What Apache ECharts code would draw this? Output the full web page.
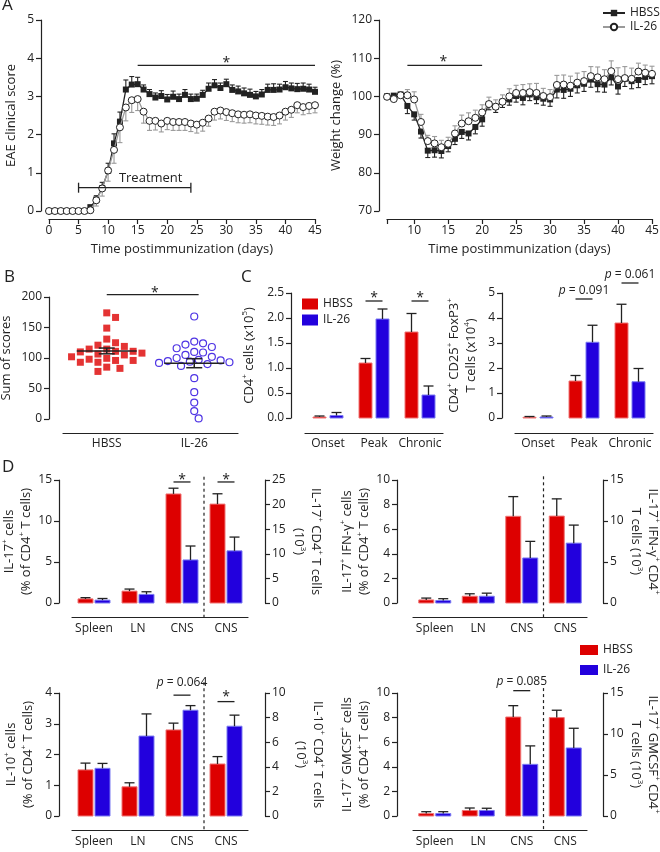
<!DOCTYPE html>
<html><head><meta charset="utf-8">
<script src="https://cdn.jsdelivr.net/npm/echarts@6/dist/echarts.min.js"></script>
<style>html,body{margin:0;padding:0;background:#fff}#c{width:660px;height:852px}</style>
</head><body><div id="c"></div>
<script>
// ---------------- DATA ----------------
// Panel A (left): EAE clinical score
const scoreDays = [0,1,2,3,4,5,6,7,8,9,10,11,12,13,14,15,16,17,18,19,20,21,22,23,24,25,26,27,28,29,30,31,32,33,34,35,36,37,38,39,40,41,42,43,44,45];
const scoreHBSS = [0,0,0,0,0,0,0,0.1,0.3,0.6,1.05,1.77,2.34,3.18,3.31,3.32,3.18,3.06,2.97,3.01,2.92,2.99,2.93,3.04,2.93,2.94,3.04,3.2,3.29,3.22,3.32,3.17,3.13,3.08,3.04,3.0,3.05,3.17,3.17,3.18,3.24,3.21,3.19,3.2,3.18,3.12];
const scoreHBSSErr = [0,0,0,0,0,0,0,0.05,0.1,0.15,0.2,0.25,0.25,0.25,0.21,0.18,0.12,0.12,0.12,0.14,0.13,0.15,0.13,0.14,0.13,0.12,0.12,0.15,0.15,0.13,0.13,0.13,0.14,0.14,0.15,0.13,0.13,0.15,0.16,0.14,0.15,0.14,0.15,0.15,0.14,0.12];
const scoreIL26 = [0,0,0,0,0,0,0,0.02,0.28,0.59,1.06,1.6,2.19,2.71,2.9,2.93,2.6,2.36,2.36,2.29,2.36,2.33,2.33,2.33,2.29,2.26,2.31,2.42,2.6,2.63,2.59,2.56,2.53,2.52,2.53,2.5,2.49,2.47,2.46,2.5,2.6,2.65,2.77,2.72,2.75,2.77];
const scoreIL26Err = [0,0,0,0,0,0,0,0.05,0.15,0.2,0.28,0.35,0.4,0.35,0.32,0.3,0.3,0.25,0.24,0.22,0.23,0.22,0.22,0.22,0.21,0.22,0.22,0.2,0.22,0.22,0.22,0.22,0.22,0.22,0.22,0.22,0.22,0.22,0.22,0.22,0.22,0.2,0.2,0.2,0.2,0.2];
const scoreSig = [15, 45, 3.81, 30, 3.95];          // x1, x2, y, star x, star y
const treatment = [5, 24, 0.61, 17.2, 0.85];         // start, end, y, label x, label y

// Panel A (right): weight change
const weightDays = [6,7,8,9,10,11,12,13,14,15,16,17,18,19,20,21,22,23,24,25,26,27,28,29,30,31,32,33,34,35,36,37,38,39,40,41,42,43,44,45];
const weightHBSS = [100,100.2,100.5,97.5,95.3,90.8,85.8,85.9,85.7,87.0,88.9,90.7,90.3,92.0,94.0,98.0,97.3,98.6,99.2,100.1,99.6,100.5,99.8,99.4,99.2,101.8,101.7,102.0,102.9,103.3,104.4,103.2,103.1,105.0,102.6,104.6,104.0,104.3,105.1,105.3];
const weightHBSSErr = [0.5,0.5,0.5,2.0,1.5,1.7,1.8,1.8,1.8,1.5,1.5,1.7,1.7,1.8,1.8,1.5,1.5,1.5,1.5,1.6,1.8,1.6,1.7,1.7,1.8,2.2,2.2,2.0,2.0,2.0,2.0,2.0,2.0,2.0,2.0,2.0,2.0,2.0,2.0,2.0];
const weightIL26 = [99.9,99.3,100.3,100.3,99.2,93.3,88.3,87.7,86.7,87.6,90.3,92.9,93.5,94.4,95.8,98.0,97.3,98.6,100.0,100.9,100.9,101.1,100.9,100.1,99.8,103.0,103.1,102.8,103.6,104.0,105.3,105.0,104.5,106.6,104.5,104.8,104.6,106.5,106.2,105.9];
const weightIL26Err = [0.7,0.7,0.8,1.5,2.0,2.0,1.5,1.8,1.8,1.7,2.0,2.2,2.2,2.0,2.0,1.8,1.8,1.8,2.0,2.0,2.2,2.2,2.5,2.0,2.0,2.5,2.5,2.5,2.5,2.5,2.5,2.7,2.5,2.7,3.0,3.0,2.8,2.2,2.0,2.0];
const weightTicks = [6,10,15,20,25,30,35,40,45];
const weightLabels = [10,15,20,25,30,35,40,45];
const weightSig = [9, 20, 108.1, 14.3, 109.7];

// Panel B: sum of scores
const sumGroups = ['HBSS','IL-26'];
const sumHBSS = [174,166.5,149,131,125,121,119,114.6,114.6,111,111,110,108,106.5,105,102,99.5,98,96,96,93,93,85,83,78];
const sumIL26 = [168,127,124,122,118,116,110,109,105,102,100,97,96,95,94,93,92,90,90,87,67,44,27,13,1];
const sumSig = [1, 2.05, 204, 1.55, 211];

// Panel C
const timepoints = ['Onset','Peak','Chronic'];
const cd4HBSS = [0.02,1.10,1.72], cd4HBSSErr = [0.02,0.09,0.37];
const cd4IL26 = [0.05,1.98,0.46], cd4IL26Err = [0.06,0.2,0.18];
const cd4Sig = [[1,2.34,2.46,'*'],[2,2.34,2.46,'*']];
const tregHBSS = [0.03,1.48,3.8], tregHBSSErr = [0.03,0.22,0.75];
const tregIL26 = [0.04,3.03,1.45], tregIL26Err = [0.04,0.68,0.53];
const tregSig = [[1,4.76,5.08,'p = 0.091'],[2,5.4,5.72,'p = 0.061']];

// Panel D
const tissues = ['Spleen','LN','CNS','CNS'];
const il17PctHBSS = [0.5,1.45,13.3], il17PctHBSSErr = [0.15,0.25,0.7];
const il17PctIL26 = [0.35,1.05,5.25], il17PctIL26Err = [0.2,0.32,1.7];
const il17NumHBSS = [20.1], il17NumHBSSErr = [2.1], il17NumIL26 = [10.6], il17NumIL26Err = [2.8];
const il17Sig = [[2,14.76,15.37,'*'],[3,14.76,15.37,'*']];
const ifngPctHBSS = [0.25,0.55,7.05], ifngPctHBSSErr = [0.15,0.2,1.6];
const ifngPctIL26 = [0.2,0.55,3.66], ifngPctIL26Err = [0.15,0.25,1.35];
const ifngNumHBSS = [10.6], ifngNumHBSSErr = [2.1], ifngNumIL26 = [7.3], ifngNumIL26Err = [2.2];
const ifngSig = [];
const il10PctHBSS = [1.5,0.95,2.8], il10PctHBSSErr = [0.22,0.13,0.22];
const il10PctIL26 = [1.55,2.6,3.44], il10PctIL26Err = [0.16,0.72,0.15];
const il10NumHBSS = [4.23], il10NumHBSSErr = [0.6], il10NumIL26 = [7.3], il10NumIL26Err = [0.9];
const il10Sig = [[2,3.93,4.33,'p = 0.064'],[3,3.72,3.97,'*']];
const gmPctHBSS = [0.2,0.45,8.05], gmPctHBSSErr = [0.15,0.2,0.92];
const gmPctIL26 = [0.2,0.45,4.2], gmPctIL26Err = [0.15,0.18,1.5];
const gmNumHBSS = [12.0], gmNumHBSSErr = [0.9], gmNumIL26 = [8.3], gmNumIL26Err = [2.4];
const gmSig = [[2,10.19,10.89,'p = 0.085']];

// ---------------- STYLE ----------------
const FONT = 'Open Sans';
const INK = '#222';
const GRAY = '#9a9a9a';
const RED = '#dd0000', RED_EDGE = '#f07575';
const BLUE = '#2200dd', BLUE_EDGE = '#7a7af2';
const RICH = { s: { fontSize: 8, fontFamily: FONT, color: INK, fill: INK, verticalAlign: 'top', lineHeight: 10 } };

function baseAxis() {
  return {
    axisLine: { show: true, onZero: false, lineStyle: { color: INK, width: 1.2 } },
    axisTick: { show: true, length: 5, lineStyle: { color: INK, width: 1.2 } },
    axisLabel: { color: INK, fontSize: 12, fontFamily: FONT, margin: 7 },
    splitLine: { show: false },
    nameTextStyle: { color: INK, fontSize: 13, fontFamily: FONT, lineHeight: 17, rich: RICH }
  };
}
function yAx(grid, min, max, interval, name, nameGap, offset, extra) {
  return Object.assign(baseAxis(), { type: 'value', gridIndex: grid, min, max, interval, name,
    nameLocation: 'middle', nameGap, offset }, extra || {});
}
function xCat(grid, cats, offset, margin) {
  const a = Object.assign(baseAxis(), { type: 'category', gridIndex: grid, data: cats, offset, boundaryGap: true });
  a.axisTick = { show: false };
  a.axisLabel.margin = margin;
  a.axisLabel.interval = 0;
  a.axisLabel.hideOverlap = false;
  return a;
}

function labelEl(text, x, y) {
  if (text === '*') return { type: 'text', style: { text: '*', x, y: y + 3, align: 'center', verticalAlign: 'middle', fontSize: 14, fontFamily: FONT, fill: INK } };
  const m = text.match(/^p = (.*)$/);
  if (m) return { type: 'text', style: { text: '{i|p} = ' + m[1], x, y, align: 'center', verticalAlign: 'middle', fontSize: 12, fontFamily: FONT, fill: INK,
    rich: { i: { fontStyle: 'italic', fontSize: 12, fontFamily: FONT, fill: INK, color: INK } } } };
  return { type: 'text', style: { text, x, y, align: 'center', verticalAlign: 'middle', fontSize: 13, fontFamily: FONT, fill: INK } };
}
const LS = { stroke: INK, lineWidth: 1.3 };

function errBars(xi, yi, xs, vals, errs, dir, color, cap) {
  return { type: 'custom', xAxisIndex: xi, yAxisIndex: yi, silent: true, z: 1,
    data: xs.map((x, i) => [x, vals[i], errs[i]]),
    renderItem: (p, api) => {
      const e = api.value(2); if (!e) return null;
      const a = api.coord([api.value(0), api.value(1)]);
      const b = api.coord([api.value(0), api.value(1) + dir * e]);
      return { type: 'group', children: [
        { type: 'line', shape: { x1: a[0], y1: a[1], x2: b[0], y2: b[1] }, style: { stroke: color, lineWidth: 1.1 } },
        { type: 'line', shape: { x1: b[0] - cap, y1: b[1], x2: b[0] + cap, y2: b[1] }, style: { stroke: color, lineWidth: 1.1 } }
      ] };
    } };
}
function lineSeries(name, xi, yi, xs, vals, filled) {
  return { type: 'line', name, xAxisIndex: xi, yAxisIndex: yi, z: filled ? 3 : 4,
    data: xs.map((x, i) => [x, vals[i]]),
    symbol: filled ? 'rect' : 'circle', symbolSize: filled ? 6 : 7,
    lineStyle: { color: filled ? INK : GRAY, width: 1.3 },
    itemStyle: filled ? { color: INK } : { color: '#fff', borderColor: INK, borderWidth: 1 } };
}
// significance bracket for continuous axes
function sigSpan(xi, yi, s, label) {
  return { type: 'custom', xAxisIndex: xi, yAxisIndex: yi, silent: true, z: 5,
    data: [[s[0], s[2]]],
    renderItem: (p, api) => {
      const a = api.coord([s[0], s[2]]), b = api.coord([s[1], s[2]]), t = api.coord([s[3], s[4]]);
      return { type: 'group', children: [
        { type: 'line', shape: { x1: a[0], y1: a[1], x2: b[0], y2: b[1] }, style: LS },
        labelEl(label, t[0], t[1]) ] };
    } };
}
function treatmentBar(xi, yi, t) {
  return { type: 'custom', xAxisIndex: xi, yAxisIndex: yi, silent: true, z: 5,
    data: [[t[0], t[2]]],
    renderItem: (p, api) => {
      const a = api.coord([t[0], t[2]]), b = api.coord([t[1], t[2]]), l = api.coord([t[3], t[4]]);
      return { type: 'group', children: [
        { type: 'line', shape: { x1: a[0], y1: a[1], x2: b[0], y2: b[1] }, style: LS },
        { type: 'line', shape: { x1: a[0], y1: a[1] - 5, x2: a[0], y2: a[1] + 5 }, style: LS },
        { type: 'line', shape: { x1: b[0], y1: b[1] - 5, x2: b[0], y2: b[1] + 5 }, style: LS },
        labelEl('Treatment', l[0], l[1]) ] };
    } };
}
// bars with upper error bar
function bars(name, xi, yi, cats, vals, errs, side, barW, gap, fill, edge) {
  return { type: 'custom', name, xAxisIndex: xi, yAxisIndex: yi, silent: true, z: 2,
    itemStyle: { color: fill },
    data: cats.map((c, i) => [c, vals[i], errs[i]]),
    renderItem: (p, api) => {
      const c = api.value(0), v = api.value(1), e = api.value(2);
      const p0 = api.coord([c, 0]), p1 = api.coord([c, v]), p2 = api.coord([c, v + e]);
      const cx = p0[0] + side * (barW + gap) / 2;
      return { type: 'group', children: [
        { type: 'rect', shape: { x: cx - barW / 2, y: p1[1], width: barW, height: p0[1] - p1[1] }, style: { fill, stroke: edge, lineWidth: 1 } },
        { type: 'line', shape: { x1: cx, y1: p1[1], x2: cx, y2: p2[1] }, style: LS },
        { type: 'line', shape: { x1: cx - 5, y1: p2[1], x2: cx + 5, y2: p2[1] }, style: LS } ] };
    } };
}
function barSig(xi, yi, items, barW, gap) {
  return { type: 'custom', xAxisIndex: xi, yAxisIndex: yi, silent: true, z: 5,
    data: items.map(it => [it[0], it[1]]),
    renderItem: (p, api) => {
      const it = items[p.dataIndex];
      const a = api.coord([it[0], it[1]]), t = api.coord([it[0], it[2]]);
      const h = (barW + gap) / 2;
      return { type: 'group', children: [
        { type: 'line', shape: { x1: a[0] - h, y1: a[1], x2: a[0] + h, y2: a[1] }, style: LS },
        labelEl(it[3], t[0], t[1]) ] };
    } };
}
function dottedDivider(xi, yi, topVal, axisOffset) {
  return { type: 'custom', xAxisIndex: xi, yAxisIndex: yi, silent: true, z: 5,
    data: [[3, topVal]],
    renderItem: (p, api) => {
      const a = api.coord([2, 0]), b = api.coord([3, 0]), t = api.coord([3, topVal]);
      const x = (a[0] + b[0]) / 2;
      return { type: 'line', shape: { x1: x, y1: t[1], x2: x, y2: b[1] + axisOffset }, style: { stroke: INK, lineWidth: 1.2, lineDash: [3, 3] } };
    } };
}
function meanSem(v) {
  const n = v.length, m = v.reduce((a, b) => a + b, 0) / n;
  const sd = Math.sqrt(v.reduce((a, b) => a + (b - m) * (b - m), 0) / (n - 1));
  return [m, sd / Math.sqrt(n)];
}
// simple deterministic beeswarm: returns x offsets in pixels
function swarm(values, pxY, size) {
  const placed = [], off = new Array(values.length);
  const order = values.map((v, i) => i).sort((a, b) => values[b] - values[a]);
  for (const i of order) {
    const y = values[i] * pxY;
    for (let k = 0; k < 60; k++) {
      const o = (k === 0 ? 0 : (k % 2 ? 1 : -1) * Math.ceil(k / 2)) * size * 0.55;
      if (placed.every(q => (q[0] - o) ** 2 + (q[1] - y) ** 2 >= size * size)) { placed.push([o, y]); off[i] = o; break; }
    }
  }
  return off;
}

// ---------------- LAYOUT ----------------
const grids = [
  { left: 49, top: 20, width: 266, height: 191 },
  { left: 387, top: 20, width: 265, height: 191 },
  { left: 63, top: 297, width: 175, height: 122 },
  { left: 305, top: 293, width: 138, height: 125 },
  { left: 515, top: 293, width: 138, height: 125 },
  { left: 72, top: 480, width: 176, height: 123 },
  { left: 413, top: 480, width: 174, height: 123 },
  { left: 72, top: 693, width: 176, height: 123 },
  { left: 413, top: 693, width: 174, height: 123 }
].map(g => Object.assign({ containLabel: false, outerBoundsMode: 'none' }, g));

const xAxes = [], yAxes = [], series = [];

// A left
(function () {
  const xa = Object.assign(baseAxis(), { type: 'value', gridIndex: 0, min: 0, max: 45, interval: 5, offset: 8,
    name: 'Time postimmunization (days)', nameLocation: 'middle', nameGap: 22 });
  xa.axisLabel.margin = 6;
  xAxes.push(xa);
  yAxes.push(yAx(0, 0, 5, 1, 'EAE clinical score', 21, 8));
  series.push(errBars(0, 0, scoreDays, scoreHBSS, scoreHBSSErr, 1, INK, 2.5));
  series.push(errBars(0, 0, scoreDays, scoreIL26, scoreIL26Err, -1, GRAY, 2.5));
  series.push(lineSeries('HBSS', 0, 0, scoreDays, scoreHBSS, true));
  series.push(lineSeries('IL-26', 0, 0, scoreDays, scoreIL26, false));
  series.push(sigSpan(0, 0, scoreSig, '*'));
  series.push(treatmentBar(0, 0, treatment));
})();
// A right
(function () {
  const xa = Object.assign(baseAxis(), { type: 'value', gridIndex: 1, min: 6, max: 45, offset: 8,
    name: 'Time postimmunization (days)', nameLocation: 'middle', nameGap: 22 });
  xa.axisTick.customValues = weightTicks;
  xa.axisLabel.customValues = weightLabels;
  xa.axisLabel.margin = 6;
  xAxes.push(xa);
  yAxes.push(yAx(1, 70, 120, 10, 'Weight change (%)', 34, 8));
  series.push(errBars(1, 1, weightDays, weightHBSS, weightHBSSErr, -1, INK, 2.5));
  series.push(errBars(1, 1, weightDays, weightIL26, weightIL26Err, 1, GRAY, 2.5));
  series.push(lineSeries('HBSS', 1, 1, weightDays, weightHBSS, true));
  series.push(lineSeries('IL-26', 1, 1, weightDays, weightIL26, false));
  series.push(sigSpan(1, 1, weightSig, '*'));
})();
// B
(function () {
  const xa = Object.assign(baseAxis(), { type: 'value', gridIndex: 2, min: 0.5, max: 2.5, offset: 14 });
  xa.axisTick = { show: false };
  xa.axisLabel.customValues = [1, 2];
  xa.axisLabel.formatter = v => sumGroups[Math.round(v) - 1];
  xa.axisLabel.margin = 5;
  xAxes.push(xa);
  yAxes.push(yAx(2, 0, 200, 50, 'Sum of scores', 34, 14));
  const pxY = 122 / 200, pxX = 175 / 2;
  const oH = swarm(sumHBSS, pxY, 8), oI = swarm(sumIL26, pxY, 8);
  series.push({ type: 'scatter', name: 'B HBSS', xAxisIndex: 2, yAxisIndex: 2, z: 2, symbol: 'rect', symbolSize: 7,
    itemStyle: { color: RED }, data: sumHBSS.map((v, i) => [1 + oH[i] / pxX, v]) });
  series.push({ type: 'scatter', name: 'B IL-26', xAxisIndex: 2, yAxisIndex: 2, z: 2, symbol: 'circle', symbolSize: 7,
    itemStyle: { color: 'rgba(255,255,255,0)', borderColor: BLUE, borderWidth: 1.2 }, data: sumIL26.map((v, i) => [2 + oI[i] / pxX, v]) });
  const stats = [meanSem(sumHBSS), meanSem(sumIL26)];
  series.push({ type: 'custom', xAxisIndex: 2, yAxisIndex: 2, silent: true, z: 4,
    data: stats.map((s, i) => [i + 1, s[0], s[1]]),
    renderItem: (p, api) => {
      const x = api.value(0), m = api.value(1), e = api.value(2);
      const c = api.coord([x, m]), hi = api.coord([x, m + e]), lo = api.coord([x, m - e]);
      const st = { stroke: INK, lineWidth: 1.5 };
      return { type: 'group', children: [
        { type: 'line', shape: { x1: c[0] - 30, y1: c[1], x2: c[0] + 30, y2: c[1] }, style: st },
        { type: 'line', shape: { x1: c[0], y1: hi[1], x2: c[0], y2: lo[1] }, style: st },
        { type: 'line', shape: { x1: c[0] - 8, y1: hi[1], x2: c[0] + 8, y2: hi[1] }, style: st },
        { type: 'line', shape: { x1: c[0] - 8, y1: lo[1], x2: c[0] + 8, y2: lo[1] }, style: st } ] };
    } });
  series.push(sigSpan(2, 2, sumSig, '*'));
})();
// C
(function () {
  const cats = [0, 1, 2];
  xAxes.push(xCat(3, timepoints, 15, 5));
  yAxes.push(yAx(3, 0, 2.5, 0.5, 'CD4{s|+} cells (x10{s|5})', 33, 14, { axisLabel: { color: INK, fontSize: 12, fontFamily: FONT, margin: 7, formatter: v => v.toFixed(1) } }));
  series.push(bars('HBSS ', 3, 3, cats, cd4HBSS, cd4HBSSErr, -1, 13, 4, RED, RED_EDGE));
  series.push(bars('IL-26 ', 3, 3, cats, cd4IL26, cd4IL26Err, 1, 13, 4, BLUE, BLUE_EDGE));
  series.push(barSig(3, 3, cd4Sig, 13, 4));
  xAxes.push(xCat(4, timepoints, 15, 5));
  yAxes.push(yAx(4, 0, 5, 1, 'CD4{s|+} CD25{s|+} FoxP3{s|+}\nT cells (x10{s|4})', 22, 13));
  series.push(bars('HBSS ', 4, 4, cats, tregHBSS, tregHBSSErr, -1, 13, 4, RED, RED_EDGE));
  series.push(bars('IL-26 ', 4, 4, cats, tregIL26, tregIL26Err, 1, 13, 4, BLUE, BLUE_EDGE));
  series.push(barSig(4, 4, tregSig, 13, 4));
})();
// D
const dPanels = [
  { g: 5, yL: [0, 15, 5], yR: [0, 25, 5], nameL: 'IL-17{s|+} cells\n(% of CD4{s|+} T cells)', nameR: 'IL-17{s|+} CD4{s|+} T cells\n(10{s|3})',
    gapL: 23, gapR: 25, offL: 13, offR: 17, pH: il17PctHBSS, pHe: il17PctHBSSErr, pI: il17PctIL26, pIe: il17PctIL26Err,
    nH: il17NumHBSS, nHe: il17NumHBSSErr, nI: il17NumIL26, nIe: il17NumIL26Err, sig: il17Sig, dot: 15.4 },
  { g: 6, yL: [0, 10, 2], yR: [0, 15, 5], nameL: 'IL-17{s|+} IFN-γ{s|+} cells\n(% of CD4{s|+} T cells)', nameR: 'IL-17{s|+} IFN-γ{s|+} CD4{s|+}\nT cells (10{s|3})',
    gapL: 22, gapR: 20, offL: 16, offR: 16, pH: ifngPctHBSS, pHe: ifngPctHBSSErr, pI: ifngPctIL26, pIe: ifngPctIL26Err,
    nH: ifngNumHBSS, nHe: ifngNumHBSSErr, nI: ifngNumIL26, nIe: ifngNumIL26Err, sig: ifngSig, dot: 10.3 },
  { g: 7, yL: [0, 4, 1], yR: [0, 10, 2], nameL: 'IL-10{s|+} cells\n(% of CD4{s|+} T cells)', nameR: 'IL-10{s|+} CD4{s|+} T cells\n(10{s|3})',
    gapL: 22, gapR: 27, offL: 13, offR: 17, pH: il10PctHBSS, pHe: il10PctHBSSErr, pI: il10PctIL26, pIe: il10PctIL26Err,
    nH: il10NumHBSS, nHe: il10NumHBSSErr, nI: il10NumIL26, nIe: il10NumIL26Err, sig: il10Sig, dot: 4.35 },
  { g: 8, yL: [0, 10, 2], yR: [0, 15, 5], nameL: 'IL-17{s|+} GMCSF{s|+} cells\n(% of CD4{s|+} T cells)', nameR: 'IL-17{s|+} GMCSF{s|+} CD4{s|+}\nT cells (10{s|3})',
    gapL: 22, gapR: 20, offL: 16, offR: 16, pH: gmPctHBSS, pHe: gmPctHBSSErr, pI: gmPctIL26, pIe: gmPctIL26Err,
    nH: gmNumHBSS, nHe: gmNumHBSSErr, nI: gmNumIL26, nIe: gmNumIL26Err, sig: gmSig, dot: 10.4 }
];
dPanels.forEach(d => {
  const xi = xAxes.length;
  xAxes.push(xCat(d.g, tissues, 14, 6));
  const yl = yAxes.length;
  yAxes.push(yAx(d.g, d.yL[0], d.yL[1], d.yL[2], d.nameL, d.gapL, d.offL));
  yAxes.push(yAx(d.g, d.yR[0], d.yR[1], d.yR[2], d.nameR, d.gapR, d.offR, { position: 'right', nameRotate: -90 }));
  const yr = yl + 1;
  series.push(bars('HBSS ', xi, yl, [0, 1, 2], d.pH, d.pHe, -1, 15, 2, RED, RED_EDGE));
  series.push(bars('IL-26 ', xi, yl, [0, 1, 2], d.pI, d.pIe, 1, 15, 2, BLUE, BLUE_EDGE));
  series.push(bars('HBSS ', xi, yr, [3], d.nH, d.nHe, -1, 15, 2, RED, RED_EDGE));
  series.push(bars('IL-26 ', xi, yr, [3], d.nI, d.nIe, 1, 15, 2, BLUE, BLUE_EDGE));
  if (d.sig.length) series.push(barSig(xi, yl, d.sig, 15, 2));
  series.push(dottedDivider(xi, yl, d.dot, 14));
});

const legText = { fontSize: 12, fontFamily: FONT, color: INK };
const option = {
  animation: false,
  backgroundColor: '#fff',
  textStyle: { fontFamily: FONT },
  grid: grids, xAxis: xAxes, yAxis: yAxes, series,
  legend: [
    { data: ['HBSS', 'IL-26'], left: 597, top: 2, orient: 'vertical', itemWidth: 22, itemHeight: 8, itemGap: 2, selectedMode: false, textStyle: legText },
    { data: [{ name: 'HBSS ', icon: 'rect' }, { name: 'IL-26 ', icon: 'rect' }], left: 297, top: 293, orient: 'vertical', itemWidth: 16, itemHeight: 11, itemGap: 4, selectedMode: false, textStyle: legText },
    { data: [{ name: 'HBSS ', icon: 'rect' }, { name: 'IL-26 ', icon: 'rect' }], left: 575, top: 639, orient: 'vertical', itemWidth: 18, itemHeight: 10, itemGap: 8, selectedMode: false, textStyle: legText }
  ],
  graphic: [
    { type: 'text', left: 2, top: -3, style: { text: 'A', fontSize: 17, fontFamily: FONT, fill: INK } },
    { type: 'text', left: 4, top: 269, style: { text: 'B', fontSize: 17, fontFamily: FONT, fill: INK } },
    { type: 'text', left: 241, top: 269, style: { text: 'C', fontSize: 17, fontFamily: FONT, fill: INK } },
    { type: 'text', left: 2, top: 459, style: { text: 'D', fontSize: 17, fontFamily: FONT, fill: INK } }
  ]
};
const chart = echarts.init(document.getElementById('c'), null, { renderer: 'canvas' });
chart.setOption(option);
</script></body></html>
